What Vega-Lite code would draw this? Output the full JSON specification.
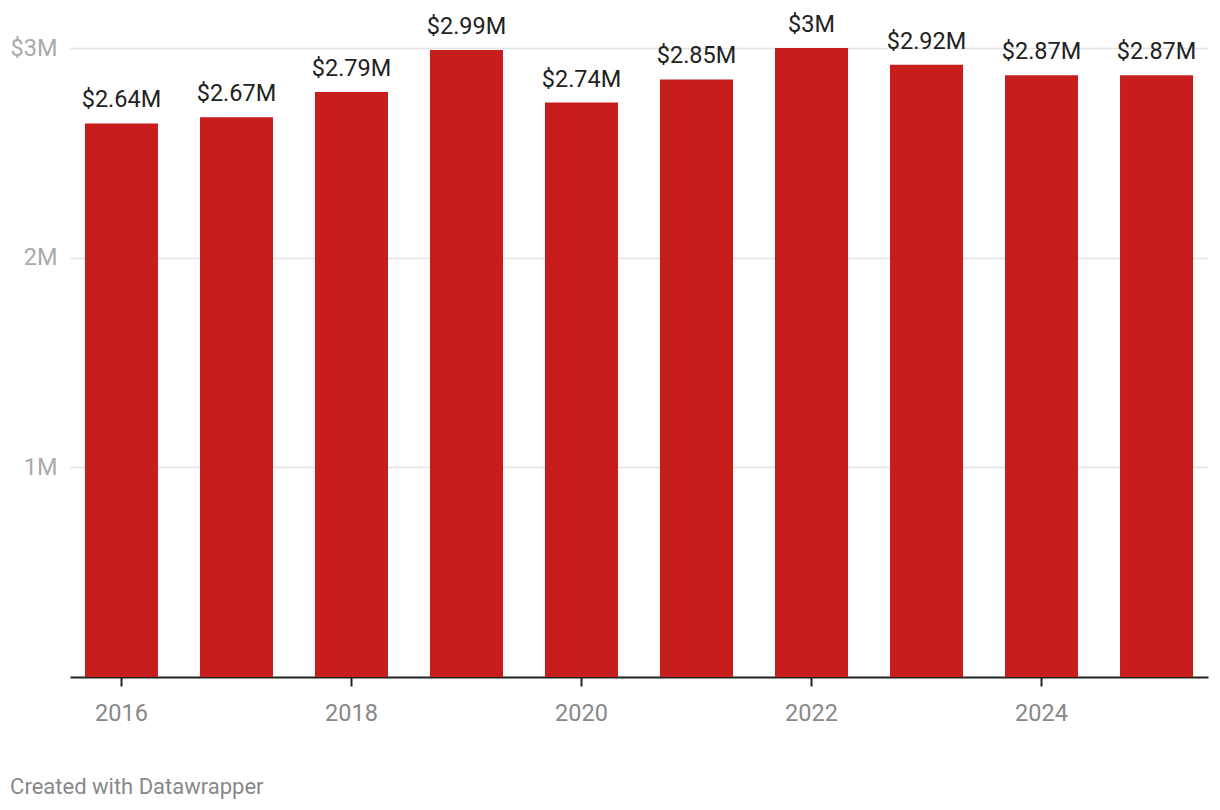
{
  "$schema": "https://vega.github.io/schema/vega-lite/v6.json",
  "autosize": "none",
  "width": 1138,
  "height": 629,
  "padding": {"left": 70, "top": 48, "right": 12, "bottom": 133},
  "background": "white",
  "config": {
    "font": "Roboto",
    "view": {"stroke": null}
  },
  "title": {
    "text": "Created with Datawrapper",
    "orient": "bottom",
    "anchor": "start",
    "frame": "bounds",
    "font": "Roboto",
    "fontSize": 22,
    "fontWeight": "normal",
    "color": "#888888",
    "offset": 52
  },
  "data": {
    "values": [
      {"year": "2016", "value": 2640000},
      {"year": "2017", "value": 2670000},
      {"year": "2018", "value": 2790000},
      {"year": "2019", "value": 2990000},
      {"year": "2020", "value": 2740000},
      {"year": "2021", "value": 2850000},
      {"year": "2022", "value": 3000000},
      {"year": "2023", "value": 2920000},
      {"year": "2024", "value": 2870000},
      {"year": "2025", "value": 2870000}
    ]
  },
  "encoding": {
    "x": {
      "field": "year",
      "type": "ordinal",
      "scale": {"paddingInner": 0.365, "paddingOuter": 0.13},
      "axis": {
        "title": null,
        "values": ["2016", "2018", "2020", "2022", "2024"],
        "labelAngle": 0,
        "labelFont": "Roboto",
        "labelFontSize": 23.5,
        "labelColor": "#888888",
        "labelPadding": 15,
        "domainColor": "#222222",
        "domainWidth": 2,
        "tickColor": "#222222",
        "tickWidth": 2,
        "tickSize": 9,
        "grid": false
      }
    },
    "y": {
      "field": "value",
      "type": "quantitative",
      "scale": {"domain": [0, 3000000], "nice": false},
      "axis": {
        "title": null,
        "values": [1000000, 2000000, 3000000],
        "labelExpr": "datum.value == 3000000 ? '$3M' : format(datum.value, '~s')",
        "labelFont": "Roboto",
        "labelFontSize": 23.5,
        "labelColor": "#aaaaaa",
        "labelPadding": 13,
        "domain": false,
        "ticks": false,
        "grid": true,
        "gridColor": "#e3e3e3",
        "gridWidth": 1.5
      }
    }
  },
  "layer": [
    {
      "mark": {"type": "bar", "color": "#c71e1d"}
    },
    {
      "mark": {
        "type": "text",
        "baseline": "alphabetic",
        "dy": -16,
        "font": "Roboto",
        "fontSize": 23.5,
        "color": "#222222"
      },
      "encoding": {
        "text": {"field": "value", "type": "quantitative", "format": "$.3~s"}
      }
    }
  ]
}
